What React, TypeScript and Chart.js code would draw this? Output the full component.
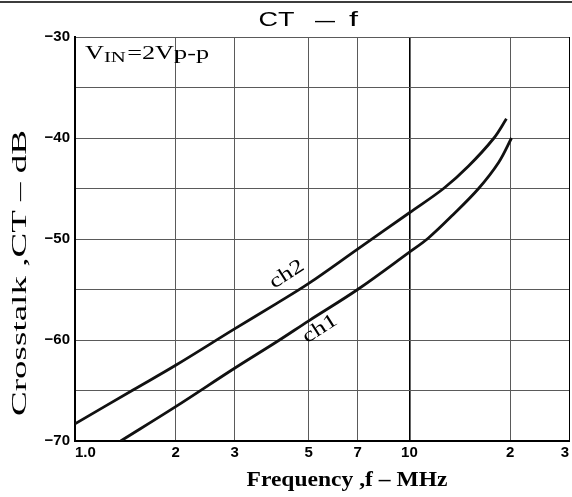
import React, { useEffect, useRef } from 'react';
import { Chart, registerables } from 'chart.js';

Chart.register(...registerables);

// ---- data ----
const ch1Freq = [1.37, 2, 3, 4, 5, 7, 10, 11.4, 13.5, 16.1, 18.5, 20.2];
const ch1CT = [-70, -66.6, -62.8, -60.2, -58.1, -55.0, -51.3, -49.9, -47.6, -45, -42.4, -40];

const ch2Freq = [1.0, 1.5, 2, 3, 4, 5, 7, 10, 12.65, 15, 17.9, 19.5];
const ch2CT = [-68.3, -64.9, -62.5, -58.9, -56.4, -54.4, -51.0, -47.4, -45, -42.8, -40, -38.1];

const seriesNames = ['ch1', 'ch2'];

const xTickValues = [1, 2, 3, 5, 7, 10, 20, 30];
const xTickLabels = ['1.0', '2', '3', '5', '7', '10', '2', '3'];

const yTickValues = [-70, -65, -60, -55, -50, -45, -40, -35, -30];
const yTickLabels = ['\u221270', '', '\u221260', '', '\u221250', '', '\u221240', '', '\u221230'];

const chartTitle = ['CT', '\u2014', 'f'];
const xTitle = 'Frequency ,f \u2013 MHz';
const yTitle = 'Crosstalk ,CT \u2013 dB';
const conditionMain = 'V';
const conditionSub = 'IN';
const conditionRest = '=2Vp-p';

const SERIF = '"Liberation Serif", "DejaVu Serif", serif';
const SANS = '"Liberation Sans", Arial, sans-serif';

function drawScaled(
  ctx: CanvasRenderingContext2D,
  text: string,
  cx: number,
  cy: number,
  font: string,
  targetWidth: number | null,
  sx: number,
  angle: number
) {
  ctx.save();
  ctx.font = font;
  const w = ctx.measureText(text).width;
  const scale = targetWidth ? targetWidth / w : sx;
  ctx.translate(cx, cy);
  ctx.rotate(angle);
  ctx.scale(scale, 1);
  ctx.textAlign = 'center';
  ctx.textBaseline = 'middle';
  ctx.fillStyle = '#000';
  ctx.fillText(text, 0, 0);
  ctx.restore();
}

const decoPlugin = {
  id: 'decoTexts',
  afterDraw(chart: any) {
    const ctx: CanvasRenderingContext2D = chart.ctx;
    const xs = chart.scales.x;
    const ys = chart.scales.y;
    ctx.save();
    // top rule of the page
    ctx.fillStyle = '#3c3c3c';
    ctx.fillRect(0, 1, chart.width, 2);

    // title
    drawScaled(ctx, chartTitle[0], 276.5, 20, '20px ' + SANS, 36, 1, 0);
    drawScaled(ctx, chartTitle[1], 325, 21, '20px ' + SANS, 20, 1, 0);
    drawScaled(ctx, chartTitle[2], 353.5, 20, '20px ' + SANS, 9, 1, 0);

    // axis titles
    drawScaled(ctx, xTitle, 347, 481, 'bold 21px ' + SERIF, 201, 1, 0);
    drawScaled(ctx, yTitle, 20, 273, '21px ' + SERIF, 286, 1, -Math.PI / 2);

    // condition label
    ctx.fillStyle = '#000';
    ctx.textBaseline = 'alphabetic';
    ctx.textAlign = 'left';
    ctx.font = '19px ' + SERIF;
    const wV = ctx.measureText(conditionMain).width;
    ctx.font = '15px ' + SERIF;
    const wSub = ctx.measureText(conditionSub).width;
    ctx.font = '19px ' + SERIF;
    const wRest = ctx.measureText(conditionRest).width;
    const total = wV + wSub + 1 + wRest;
    const k = 124 / total;
    ctx.save();
    ctx.translate(85, 59);
    ctx.scale(k, 1);
    ctx.font = '19px ' + SERIF;
    ctx.fillText(conditionMain, 0, 0);
    ctx.font = '15px ' + SERIF;
    ctx.fillText(conditionSub, wV, 3);
    ctx.font = '19px ' + SERIF;
    ctx.fillText(conditionRest, wV + wSub + 1, 0);
    ctx.restore();

    // series labels anchored in data space
    const a2x = xs.getPixelForValue(4.3);
    const a2y = ys.getPixelForValue(-53.5);
    drawScaled(ctx, seriesNames[1], a2x, a2y, '20px ' + SERIF, null, 1.3, -0.57);
    const a1x = xs.getPixelForValue(5.4);
    const a1y = ys.getPixelForValue(-58.9);
    drawScaled(ctx, seriesNames[0], a1x, a1y, '20px ' + SERIF, null, 1.3, -0.57);

    ctx.restore();
  },
};

export default function App() {
  const ref = useRef<HTMLCanvasElement | null>(null);

  useEffect(() => {
    if (!ref.current) return;
    const mk = (fs: number[], vs: number[]) => fs.map((f, i) => ({ x: f, y: vs[i] }));
    const chart = new Chart(ref.current, {
      type: 'scatter',
      data: {
        datasets: [
          {
            label: seriesNames[0],
            data: mk(ch1Freq, ch1CT),
            showLine: true,
            borderColor: '#111',
            borderWidth: 2.8,
            pointRadius: 0,
            tension: 0.35,
          },
          {
            label: seriesNames[1],
            data: mk(ch2Freq, ch2CT),
            showLine: true,
            borderColor: '#111',
            borderWidth: 2.8,
            pointRadius: 0,
            tension: 0.35,
          },
        ],
      },
      options: {
        animation: false,
        responsive: false,
        maintainAspectRatio: false,
        layout: { padding: { left: 0, right: 3, top: 37, bottom: 0 } },
        plugins: {
          legend: { display: false },
          tooltip: { enabled: false },
          title: { display: false },
        },
        scales: {
          x: {
            type: 'logarithmic',
            min: 1,
            max: 30,
            position: 'bottom',
            afterFit: (s: any) => {
              s.height = 56;
            },
            afterBuildTicks: (s: any) => {
              s.ticks = xTickValues.map((v) => ({ value: v }));
            },
            ticks: {
              autoSkip: false,
              maxRotation: 0,
              minRotation: 0,
              align: 'inner',
              padding: 3,
              color: '#000',
              font: { family: SANS, size: 15, weight: 'bold' },
              callback: (_v: any, i: number) => xTickLabels[i] ?? '',
            },
            grid: {
              drawTicks: false,
              color: (c: any) => (c.tick && (c.tick.value === 10 || c.tick.value === 30) ? '#000' : '#5a5a5a'),
              lineWidth: (c: any) => (c.tick && c.tick.value === 10 ? 1.6 : 1),
            },
            border: { display: true, color: '#000', width: 2 },
          },
          y: {
            type: 'linear',
            min: -70,
            max: -30,
            afterFit: (s: any) => {
              s.width = 75;
            },
            afterBuildTicks: (s: any) => {
              s.ticks = yTickValues.map((v) => ({ value: v }));
            },
            ticks: {
              autoSkip: false,
              padding: 5,
              color: '#000',
              font: { family: SANS, size: 15, weight: 'bold' },
              callback: (_v: any, i: number) => yTickLabels[i] ?? '',
            },
            grid: {
              drawTicks: false,
              color: '#5a5a5a',
              lineWidth: 1,
            },
            border: { display: true, color: '#000', width: 2 },
          },
        },
      } as any,
      plugins: [decoPlugin],
    });
    return () => chart.destroy();
  }, []);

  return (
    <div style={{ position: 'fixed', left: 0, top: 0, width: 572, height: 497, background: '#fff' }}>
      <canvas ref={ref} width={572} height={497} style={{ display: 'block', width: 572, height: 497 }} />
    </div>
  );
}
